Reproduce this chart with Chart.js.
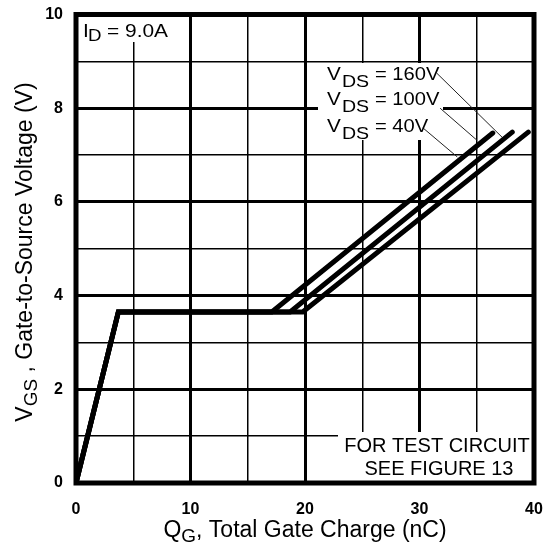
<!DOCTYPE html>
<html>
<head>
<meta charset="utf-8">
<script src="https://cdn.jsdelivr.net/npm/chart.js@4/dist/chart.umd.min.js"></script>
<style>
  html, body { margin: 0; padding: 0; background: #fff; }
  #wrap { width: 545px; height: 554px; }
</style>
</head>
<body>
<div id="wrap"><canvas id="graficoCarga" width="545" height="554"></canvas></div>
<script>
// Gate charge vs gate-source voltage, I_D = 9.0A
var seriesLabels = ["VDS = 40V", "VDS = 100V", "VDS = 160V"];

var q40 = [0, 3.7, 17.1, 36.4];
var v40 = [0, 3.65, 3.65, 7.47];

var q100 = [0, 3.7, 18.7, 38.1];
var v100 = [0, 3.65, 3.65, 7.49];

var q160 = [0, 3.7, 19.8, 39.5];
var v160 = [0, 3.65, 3.65, 7.49];

// thin pointer lines from the labels to the curves
var lead160Q = [31.5, 37.3];
var lead160V = [8.75, 7.36];
var lead100Q = [31.8, 35.0];
var lead100V = [8.0, 7.32];
var lead40Q = [30.3, 33.3];
var lead40V = [7.58, 6.96];

var xTicks = [0, 10, 20, 30, 40];
var yTicks = [0, 2, 4, 6, 8, 10];

var fonte = "Arial, 'Liberation Sans', Helvetica, sans-serif";

function pontos(qs, vs) {
  return qs.map((q, i) => ({ x: q, y: vs[i] }));
}

function curva(label, qs, vs) {
  return {
    label: label,
    data: pontos(qs, vs),
    showLine: true,
    borderColor: "#000",
    backgroundColor: "#000",
    borderWidth: 5,
    borderCapStyle: "round",
    borderJoinStyle: "miter",
    pointRadius: 0,
    tension: 0
  };
}

function guia(qs, vs) {
  return {
    label: "",
    data: pontos(qs, vs),
    showLine: true,
    borderColor: "#222",
    borderWidth: 1,
    pointRadius: 0
  };
}

// draws a bit of text, optionally stretched sideways
function escreve(ctx, txt, x, y, tam, sx, peso) {
  ctx.save();
  ctx.translate(x, y);
  ctx.scale(sx || 1, 1);
  ctx.font = (peso || "normal") + " " + tam + "px " + fonte;
  ctx.fillText(txt, 0, 0);
  var w = ctx.measureText(txt).width * (sx || 1);
  ctx.restore();
  return w;
}

function largura(ctx, partes) {
  var t = 0;
  partes.forEach(p => {
    ctx.font = p.tam + "px " + fonte;
    t += ctx.measureText(p.t).width;
  });
  return t;
}

function escrevePartes(ctx, partes, x, y) {
  var px = x;
  partes.forEach(p => {
    px += escreve(ctx, p.t, px, y + (p.dy || 0), p.tam, 1);
  });
}

var anotacoes = {
  id: "anotacoes",
  beforeDatasetsDraw(chart) {
    var ctx = chart.ctx;
    ctx.save();
    ctx.fillStyle = "#fff";
    ctx.fillRect(78, 17, 100, 25);    // I_D label
    ctx.fillRect(318, 63, 125, 77);   // V_DS labels
    ctx.fillRect(338, 432, 194, 49);  // test circuit note
    ctx.restore();
  },
  afterDatasetsDraw(chart) {
    var ctx = chart.ctx;
    var a = chart.chartArea;
    ctx.save();
    ctx.strokeStyle = "#000";
    ctx.lineWidth = 5;
    ctx.strokeRect(a.left, a.top, a.right - a.left, a.bottom - a.top);

    ctx.fillStyle = "#000";
    ctx.textAlign = "left";
    ctx.textBaseline = "alphabetic";

    // I_D = 9.0A
    escreve(ctx, "I", 83, 37, 19, 1.1);
    escreve(ctx, "D", 88, 41, 17, 1.1);
    escreve(ctx, "= 9.0A", 107, 37, 19, 1.1);

    // V_DS labels
    var linhas = [["= 160V", 80], ["= 100V", 105], ["= 40V", 132]];
    linhas.forEach(l => {
      escreve(ctx, "V", 327, l[1], 18, 1.15);
      escreve(ctx, "DS", 342, l[1] + 7, 17, 1.15);
      escreve(ctx, l[0], 375, l[1], 18, 1.12);
    });

    // test circuit note
    ctx.textAlign = "center";
    escreve(ctx, "FOR TEST CIRCUIT", 437, 452, 20, 1);
    escreve(ctx, "SEE FIGURE 13", 439, 475, 20, 1);
    ctx.textAlign = "left";

    // x axis title
    var tx = [
      { t: "Q", tam: 23 },
      { t: "G", tam: 19, dy: 5 },
      { t: ", Total Gate Charge (nC)", tam: 23 }
    ];
    escrevePartes(ctx, tx, 305 - largura(ctx, tx) / 2, 537);

    // y axis title, rotated
    var ty = [
      { t: "V", tam: 23 },
      { t: "GS", tam: 19, dy: 5 },
      { t: " , Gate-to-Source Voltage (V)", tam: 23 }
    ];
    ctx.translate(32, 252);
    ctx.rotate(-Math.PI / 2);
    escrevePartes(ctx, ty, -largura(ctx, ty) / 2, 0);
    ctx.restore();
  }
};

var grafico = new Chart(document.getElementById("graficoCarga"), {
  type: "scatter",
  data: {
    datasets: [
      curva(seriesLabels[0], q40, v40),
      curva(seriesLabels[1], q100, v100),
      curva(seriesLabels[2], q160, v160),
      guia(lead160Q, lead160V),
      guia(lead100Q, lead100V),
      guia(lead40Q, lead40V)
    ]
  },
  options: {
    responsive: false,
    animation: false,
    devicePixelRatio: 1,
    layout: { padding: { left: 0, right: 11, top: 14.5, bottom: 0 } },
    plugins: {
      legend: { display: false },
      tooltip: { enabled: false }
    },
    scales: {
      x: {
        type: "linear",
        min: 0,
        max: 40,
        afterFit(s) { s.height = 71; s.paddingLeft = 0; s.paddingRight = 0; },
        border: { display: false },
        grid: {
          color: "#000",
          lineWidth: c => (c.tick && c.tick.value % 10 === 0) ? 3 : 1.5,
          drawTicks: false
        },
        ticks: {
          stepSize: 5,
          autoSkip: false,
          maxRotation: 0,
          padding: 17,
          color: "#000",
          font: { family: fonte, size: 16, weight: "bold" },
          callback: v => xTicks.includes(v) ? String(v) : ""
        }
      },
      y: {
        type: "linear",
        min: 0,
        max: 10,
        afterFit(s) { s.width = 76; s.paddingTop = 0; s.paddingBottom = 0; },
        border: { display: false },
        grid: {
          color: "#000",
          lineWidth: c => (c.tick && c.tick.value % 2 === 0) ? 3 : 1.5,
          drawTicks: false
        },
        ticks: {
          stepSize: 1,
          autoSkip: false,
          padding: 13,
          color: "#000",
          font: { family: fonte, size: 16, weight: "bold" },
          callback: v => yTicks.includes(v) ? String(v) : ""
        }
      }
    }
  },
  plugins: [anotacoes]
});
</script>
</body>
</html>
